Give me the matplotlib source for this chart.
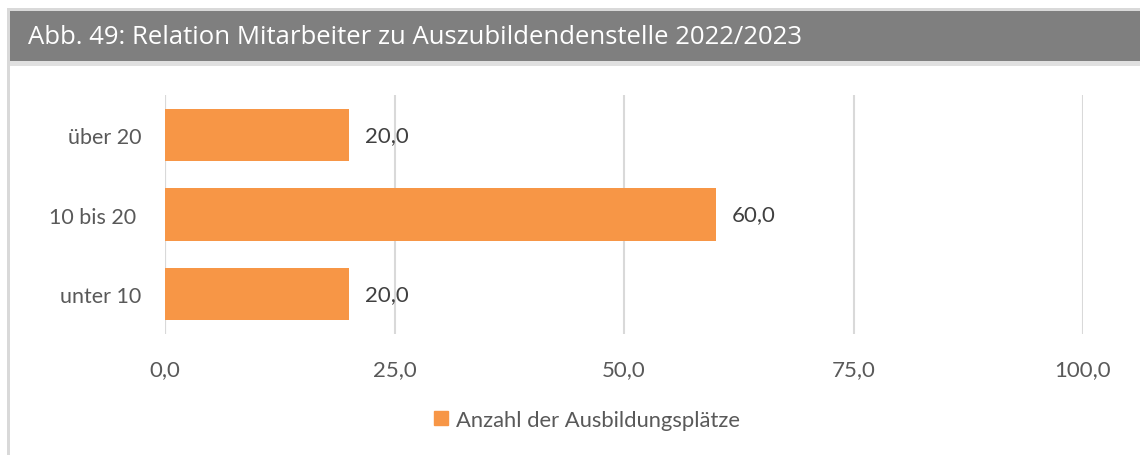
import matplotlib.pyplot as plt
from matplotlib.patches import Rectangle
from matplotlib.lines import Line2D

# categories, bottom to top
categories = ["unter 10", "10 bis 20 ", "über 20"]
values = [20.0, 60.0, 20.0]
ticks = [0, 25, 50, 75, 100]
title = "Abb. 49: Relation Mitarbeiter zu Auszubildendenstelle 2022/2023"
series_name = "Anzahl der Ausbildungsplätze"

bar_color = "#F79646"
grid_color = "#D9D9D9"
label_font = "Lato"


def de_num(v):
    return f"{v:.1f}".replace(".", ",")


fig = plt.figure(figsize=(11.4, 4.56), dpi=100)
W, H = 1140, 456

# frame and title box (pixel coords converted to figure fractions)
def px_rect(x0, y0, x1, y1, color):
    fig.patches.append(Rectangle((x0 / W, 1 - y1 / H), (x1 - x0) / W, (y1 - y0) / H,
                                 transform=fig.transFigure, color=color, lw=0, zorder=-5))

px_rect(7, 9, W, 456, "#D9D9D9")
px_rect(10, 12, W, 456, "white")
px_rect(10, 12, W, 67, "#E0E0E0")
px_rect(10, 12, W, 62, "#7F7F7F")
fig.text(28 / W, 1 - 37 / H, title, color="white", fontsize=18.5,
         family="Open Sans", va="center", ha="left")

ax = fig.add_axes([165 / W, 1 - 335 / H, (1083 - 165) / W, (335 - 96) / H])
ax.set_facecolor("none")
bars = ax.barh(range(len(categories)), values, height=0.66, color=bar_color, zorder=2)

ax.set_xlim(0, 100)
ax.set_ylim(-0.5, len(categories) - 0.5)
ax.set_xticks(ticks)
ax.set_xticklabels([de_num(t) for t in ticks])
ax.set_yticks(range(len(categories)))
ax.set_yticklabels(categories)
ax.xaxis.grid(True, color=grid_color, lw=1.5, zorder=0)
for s in ax.spines.values():
    s.set_visible(False)
ax.axvline(0, color=grid_color, lw=1.5, zorder=1)
ax.tick_params(length=0)
ax.tick_params(axis="x", pad=18, labelsize=16, labelcolor="#595959")
ax.tick_params(axis="y", pad=17, labelsize=15.5, labelcolor="#595959")
for lab in ax.get_xticklabels() + ax.get_yticklabels():
    lab.set_family(label_font)

for rect, v in zip(bars, values):
    ax.annotate(de_num(v), (v, rect.get_y() + rect.get_height() / 2),
                xytext=(16, 0), textcoords="offset pixels", va="center", ha="left",
                fontsize=16, color="#404040", family=label_font)

handle = Line2D([], [], marker="s", ls="none", markersize=10,
                markerfacecolor=bar_color, markeredgecolor=bar_color)
fig.legend([handle], [series_name], loc="center", bbox_to_anchor=(585 / W, 1 - 421 / H),
           frameon=False, handletextpad=0.15, handlelength=1.0,
           prop={"family": label_font, "size": 15.8}, labelcolor="#595959")

fig.savefig("out.png", dpi=100)
